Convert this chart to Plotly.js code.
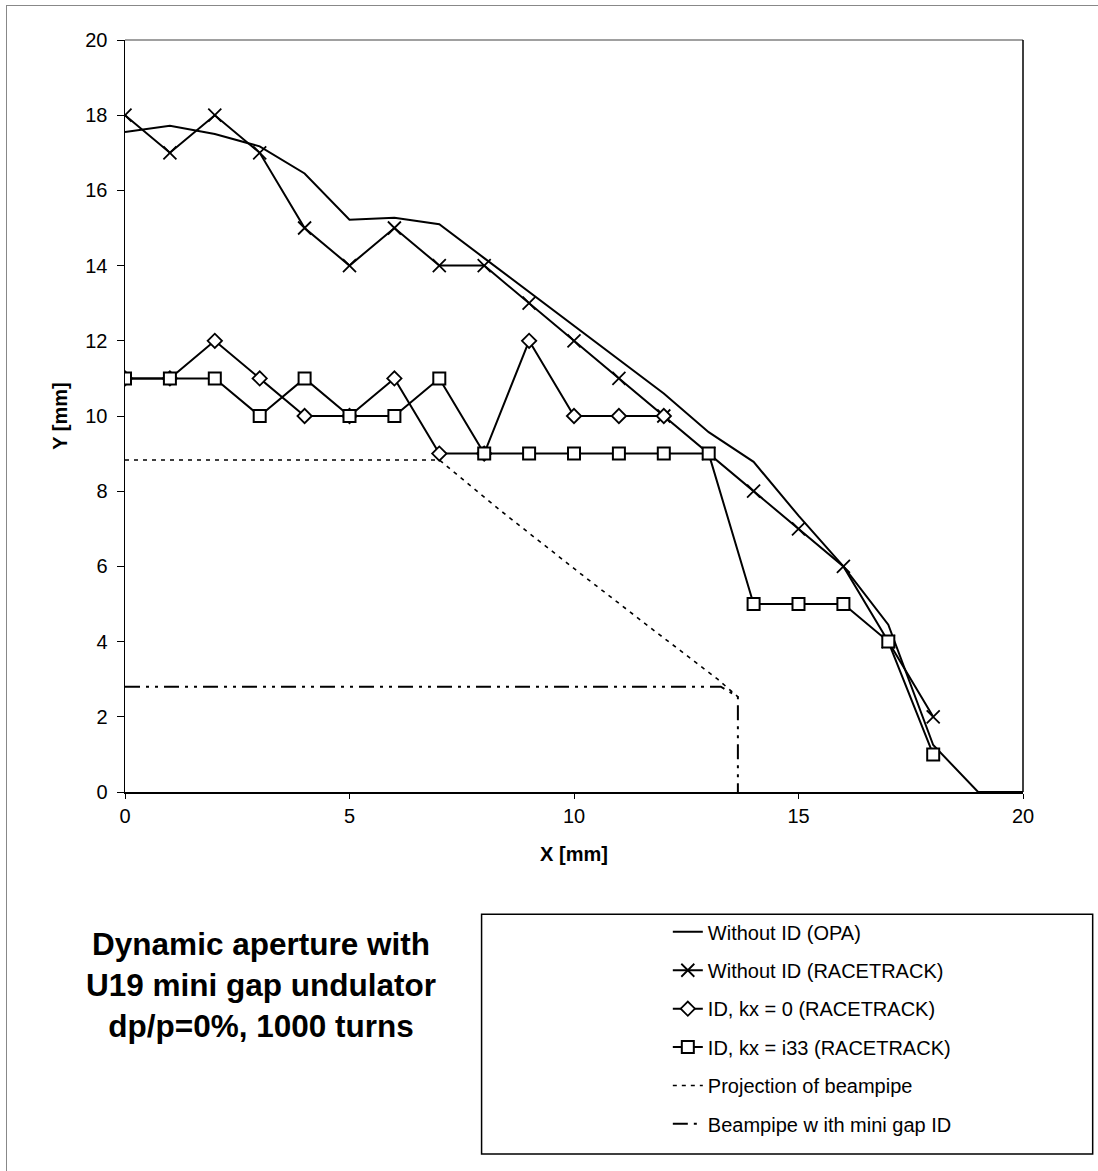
<!DOCTYPE html>
<html>
<head>
<meta charset="utf-8">
<script src="https://cdn.plot.ly/plotly-3.0.1.min.js"></script>
<style>
  html, body { margin: 0; padding: 0; background: #fff; }
  #frame { position: absolute; left: 6px; top: 5px; width: 1200px; height: 1300px; border: 1px solid #888; pointer-events: none; }
  #chart { position: absolute; left: 0; top: 0; width: 1098px; height: 1171px; }
</style>
</head>
<body>
<div id="chart"></div>
<div id="frame"></div>
<script>
// ---- data ----
const opaX = [0, 1, 2, 3, 4, 5, 6, 7, 8, 9, 10, 11, 12, 13, 14, 15, 16, 17, 18, 19, 20];
const opaY = [17.55, 17.72, 17.5, 17.17, 16.45, 15.22, 15.27, 15.1, 14.2, 13.3, 12.4, 11.5, 10.6, 9.57, 8.78, 7.35, 6.0, 4.45, 1.25, 0, 0];

const rtX = [0, 1, 2, 3, 4, 5, 6, 7, 8, 9, 10, 11, 12, 13, 14, 15, 16, 17, 18];
const rtY = [18, 17, 18, 17, 15, 14, 15, 14, 14, 13, 12, 11, 10, 9, 8, 7, 6, 4, 2];

const id0X = [0, 1, 2, 3, 4, 5, 6, 7, 8, 9, 10, 11, 12];
const id0Y = [11, 11, 12, 11, 10, 10, 11, 9, 9, 12, 10, 10, 10];

const i33X = [0, 1, 2, 3, 4, 5, 6, 7, 8, 9, 10, 11, 12, 13, 14, 15, 16, 17, 18];
const i33Y = [11, 11, 11, 10, 11, 10, 10, 11, 9, 9, 9, 9, 9, 9, 5, 5, 5, 4, 1];

const projX = [0, 7, 8.4, 10.1, 11.8, 13.2, 13.65];
const projY = [8.83, 8.83, 7.45, 5.85, 4.28, 3.0, 2.53];

const pipeX = [0, 13.27, 13.65, 13.65];
const pipeY = [2.8, 2.8, 2.53, 0];

const seriesNames = [
  "Without ID (OPA)",
  "Without ID (RACETRACK)",
  "ID, kx = 0 (RACETRACK)",
  "ID, kx = i33 (RACETRACK)",
  "Projection of beampipe",
  "Beampipe w ith mini gap ID"
];
const chartTitle = "Dynamic aperture with<br>U19 mini gap undulator<br>dp/p=0%, 1000 turns";
const xTitle = "X [mm]";
const yTitle = "Y [mm]";
const xTicks = [0, 5, 10, 15, 20];
const yTicks = [0, 2, 4, 6, 8, 10, 12, 14, 16, 18, 20];

// ---- traces ----
const FONT = "Liberation Sans, Arial, sans-serif";
const traces = [
  { x: opaX, y: opaY, name: seriesNames[0], mode: "lines", legendgroup: "g0",
    line: { color: "#000", width: 2 } },
  { x: rtX, y: rtY, name: seriesNames[1], mode: "lines+markers", legendgroup: "g1",
    line: { color: "#000", width: 2 },
    marker: { symbol: "x-thin-open", size: 13, color: "#000", line: { color: "#000", width: 1.8 } } },
  { x: id0X, y: id0Y, name: seriesNames[2], mode: "lines+markers", legendgroup: "g2",
    line: { color: "#000", width: 2 },
    marker: { symbol: "diamond", size: 11, color: "#fff", line: { color: "#000", width: 1.8 } } },
  { x: i33X, y: i33Y, name: seriesNames[3], mode: "lines+markers", legendgroup: "g3",
    line: { color: "#000", width: 2 },
    marker: { symbol: "square", size: 12, color: "#fff", line: { color: "#000", width: 2 } } },
  { x: projX, y: projY, name: seriesNames[4], mode: "lines", legendgroup: "g4",
    line: { color: "#000", width: 1.6, dash: "4px,5px" } },
  { x: pipeX, y: pipeY, name: seriesNames[5], mode: "lines", legendgroup: "g5",
    line: { color: "#000", width: 2, dash: "15px,6px,3px,6px,3px,6px" } }
];

// paper-coordinate helpers for the decorative box (plot area: x 125..1023, y 40..792)
const L = 125, R = 1023.3, T = 40, B = 791.7;
const px = v => (v - L) / (R - L);
const py = v => (B - v) / (B - T);

const layout = {
  width: 1098, height: 1171,
  paper_bgcolor: "#fff", plot_bgcolor: "#fff",
  margin: { l: L, r: 1098 - R, t: T, b: 1171 - B, pad: 0 },
  font: { family: FONT, size: 20, color: "#000" },
  showlegend: true,
  xaxis: {
    range: [0, 20], tickvals: xTicks, ticktext: xTicks.map(String),
    ticks: "outside", ticklen: 5, tickwidth: 1, tickcolor: "#000",
    showline: true, linecolor: "#000", linewidth: 1.5, mirror: false,
    showgrid: false, zeroline: false,
    tickfont: { family: FONT, size: 20, color: "#000" },
    title: { text: xTitle, font: { family: FONT, size: 20, color: "#000", weight: "bold" }, standoff: 21 }
  },
  yaxis: {
    range: [0, 20], tickvals: yTicks, ticktext: yTicks.map(String),
    ticks: "outside", ticklen: 7, tickwidth: 1, tickcolor: "#000",
    ticklabelstandoff: 5,
    showline: true, linecolor: "#000", linewidth: 1.5, mirror: false,
    showgrid: false, zeroline: false,
    tickfont: { family: FONT, size: 20, color: "#000" },
    title: { text: yTitle, font: { family: FONT, size: 20, color: "#000", weight: "bold" }, standoff: 12 }
  },
  xaxis2: {
    overlaying: "x", matches: "x", anchor: "y", side: "bottom",
    range: [0, 20], tickvals: xTicks, showticklabels: false,
    ticks: "inside", ticklen: 5, tickwidth: 1, tickcolor: "#000",
    showline: false, showgrid: false, zeroline: false
  },
  yaxis2: {
    overlaying: "y", matches: "y", anchor: "x", side: "left",
    range: [0, 20], tickvals: yTicks, showticklabels: false,
    ticks: "inside", ticklen: 7, tickwidth: 1, tickcolor: "#000",
    showline: false, showgrid: false, zeroline: false
  },
  legend: {
    x: px(668), y: py(912), xanchor: "left", yanchor: "top",
    bgcolor: "rgba(0,0,0,0)", borderwidth: 0,
    font: { family: FONT, size: 20, color: "#000" },
    traceorder: "grouped", tracegroupgap: 9.4, itemwidth: 30
  },
  shapes: [
    { type: "line", xref: "paper", yref: "paper", x0: 0, x1: 1, y0: 1, y1: 1, line: { color: "#808080", width: 1.5 } },
    { type: "line", xref: "paper", yref: "paper", x0: 1, x1: 1, y0: 0, y1: 1, line: { color: "#000", width: 1.5 } },
    { type: "rect", xref: "paper", yref: "paper", x0: px(481.7), x1: px(1093), y0: py(914), y1: py(1153.5),
      line: { color: "#000", width: 1.5 }, fillcolor: "rgba(0,0,0,0)" }
  ],
  annotations: [
    { text: chartTitle, xref: "paper", yref: "paper", x: px(261), y: py(985),
      xanchor: "center", yanchor: "middle", showarrow: false, align: "center",
      font: { family: FONT, size: 31.5, color: "#000", weight: "bold" } }
  ]
};

Plotly.newPlot("chart", traces, layout, { displayModeBar: false, staticPlot: true });
</script>
</body>
</html>
